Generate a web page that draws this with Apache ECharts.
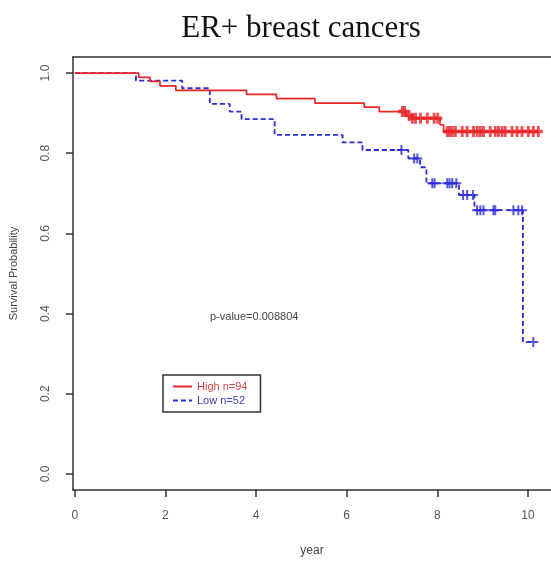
<!DOCTYPE html>
<html>
<head>
<meta charset="utf-8">
<script src="https://cdn.jsdelivr.net/npm/echarts@6/dist/echarts.min.js"></script>
<style>
  html, body { margin: 0; padding: 0; background: #fff; }
  #chart { width: 551px; height: 562px; }
</style>
</head>
<body>
<div id="chart"></div>
<script>
// Kaplan-Meier steps
var highTimes = [0, 1.41, 1.66, 1.88, 2.23, 3.79, 4.45, 5.30, 6.39, 6.72, 7.32, 7.45, 8.06, 8.14]
var highSurv = [1, 0.989, 0.979, 0.968, 0.957, 0.947, 0.936, 0.925, 0.915, 0.904, 0.894, 0.887, 0.871, 0.854]
var highCensor = [7.23, 7.28, 7.38, 7.45, 7.52, 7.63, 7.78, 7.93, 8.01, 8.22, 8.27, 8.33, 8.40,
  8.55, 8.66, 8.80, 8.88, 8.95, 9.02, 9.17, 9.28, 9.35, 9.43, 9.50, 9.65, 9.76, 9.87, 10.01, 10.12, 10.23]

var lowTimes = [0, 1.35, 2.37, 2.98, 3.42, 3.68, 4.41, 5.91, 6.35, 7.36, 7.62, 7.76, 8.48, 8.82, 9.89]
var lowSurv = [1, 0.981, 0.962, 0.923, 0.904, 0.885, 0.846, 0.827, 0.808, 0.787, 0.765, 0.725, 0.696, 0.658, 0.329]
var lowCensor = [7.21, 7.49, 7.56, 7.89, 7.94, 8.22, 8.27, 8.33, 8.42, 8.57, 8.66, 8.79,
  8.88, 8.95, 9.02, 9.24, 9.28, 9.68, 9.79, 9.87, 10.12]

var xTicks = [0, 2, 4, 6, 8, 10]
var yTicks = [0, 0.2, 0.4, 0.6, 0.8, 1.0]

var highName = 'High n=94'
var lowName = 'Low n=52'
var pValueText = 'p-value=0.008804'

var red = '#e8262a'
var blue = '#2b2bd9'
var axisColor = '#333'
var plusThick = 'path://M3.4,0H6.6V3.4H10V6.6H6.6V10H3.4V6.6H0V3.4H3.4Z'
var plus = 'path://M4,0H6V4H10V6H6V10H4V6H0V4H4Z'

// survival value of a step curve at time t
function survAt(times, surv, t) {
  var s = surv[0]
  for (var i = 0; i < times.length; i++) {
    if (times[i] <= t) s = surv[i]
  }
  return s
}

function stepData(times, surv, censor) {
  var d = times.map(function (t, i) { return [t, surv[i]] })
  var last = censor[censor.length - 1]
  if (last > times[times.length - 1]) d.push([last, survAt(times, surv, last)])
  return d
}

function censorData(times, surv, censor) {
  return censor.map(function (t) { return [t, survAt(times, surv, t)] })
}

var chart = echarts.init(document.getElementById('chart'))

chart.setOption({
  animation: false,
  textStyle: { fontFamily: 'Liberation Sans, Arial, sans-serif' },
  title: [
    {
      text: 'ER+ breast cancers',
      left: 296,
      top: 8,
      textAlign: 'center',
      textStyle: { fontFamily: 'Liberation Serif, Times New Roman, serif', fontSize: 31, fontWeight: 'normal', color: '#111' }
    },
    {
      text: pValueText,
      left: 205,
      top: 306,
      textStyle: { fontSize: 11, fontWeight: 'normal', color: '#444' }
    }
  ],
  grid: {
    left: 71,
    right: 0,
    top: 57,
    bottom: 72
  },
  legend: {
    orient: 'vertical',
    left: 163,
    top: 375,
    padding: [6, 13, 6, 9],
    itemGap: 3,
    itemWidth: 19,
    itemHeight: 10,
    borderColor: axisColor,
    borderWidth: 1.5,
    itemStyle: { opacity: 0 },
    data: [
      { name: highName, textStyle: { color: '#d04848' } },
      { name: lowName, textStyle: { color: '#3c3cc4' } }
    ],
    textStyle: { fontSize: 11 }
  },
  xAxis: [
    {
      type: 'value',
      min: -0.04,
      max: 10.51,
      name: 'year',
      nameLocation: 'middle',
      nameGap: 55,
      nameTextStyle: { fontSize: 12, color: '#444' },
      axisLine: { show: true, onZero: false, lineStyle: { color: axisColor, width: 1.5 } },
      axisTick: { show: true, customValues: xTicks, length: 7, lineStyle: { color: axisColor, width: 1.5 } },
      axisLabel: { customValues: xTicks, margin: 20, fontSize: 12, color: '#555' },
      splitLine: { show: false }
    },
    {
      // top edge of the box
      type: 'value',
      position: 'top',
      min: -0.04,
      max: 10.51,
      axisLine: { show: true, onZero: false, lineStyle: { color: axisColor, width: 1.5 } },
      axisTick: { show: false },
      axisLabel: { show: false },
      splitLine: { show: false }
    }
  ],
  yAxis: {
    type: 'value',
    min: -0.04,
    max: 1.04,
    name: 'Survival Probability',
    nameLocation: 'middle',
    nameGap: 54,
    nameTextStyle: { fontSize: 11, color: '#444' },
    axisLine: { show: true, onZero: false, lineStyle: { color: axisColor, width: 1.5 } },
    axisTick: { show: true, customValues: yTicks, length: 7, lineStyle: { color: axisColor, width: 1.5 } },
    axisLabel: {
      customValues: yTicks,
      rotate: 90,
      margin: 21,
      fontSize: 12,
      color: '#555',
      formatter: function (v) { return v.toFixed(1) }
    },
    splitLine: { show: false }
  },
  series: [
    {
      name: highName,
      type: 'line',
      step: 'end',
      showSymbol: false,
      symbol: 'none',
      color: red,
      lineStyle: { color: red, width: 1.7 },
      data: stepData(highTimes, highSurv, highCensor),
      z: 3
    },
    {
      name: lowName,
      type: 'line',
      step: 'end',
      showSymbol: false,
      symbol: 'none',
      color: blue,
      lineStyle: { color: blue, width: 1.8, type: [5, 3] },
      data: stepData(lowTimes, lowSurv, lowCensor),
      z: 2
    },
    {
      name: 'high-censor',
      type: 'scatter',
      symbol: plusThick,
      symbolSize: [9, 11],
      itemStyle: { color: red },
      data: censorData(highTimes, highSurv, highCensor),
      z: 4
    },
    {
      name: 'low-censor',
      type: 'scatter',
      symbol: plus,
      symbolSize: [10, 10],
      itemStyle: { color: blue },
      data: censorData(lowTimes, lowSurv, lowCensor),
      z: 4
    }
  ]
})
</script>
</body>
</html>
